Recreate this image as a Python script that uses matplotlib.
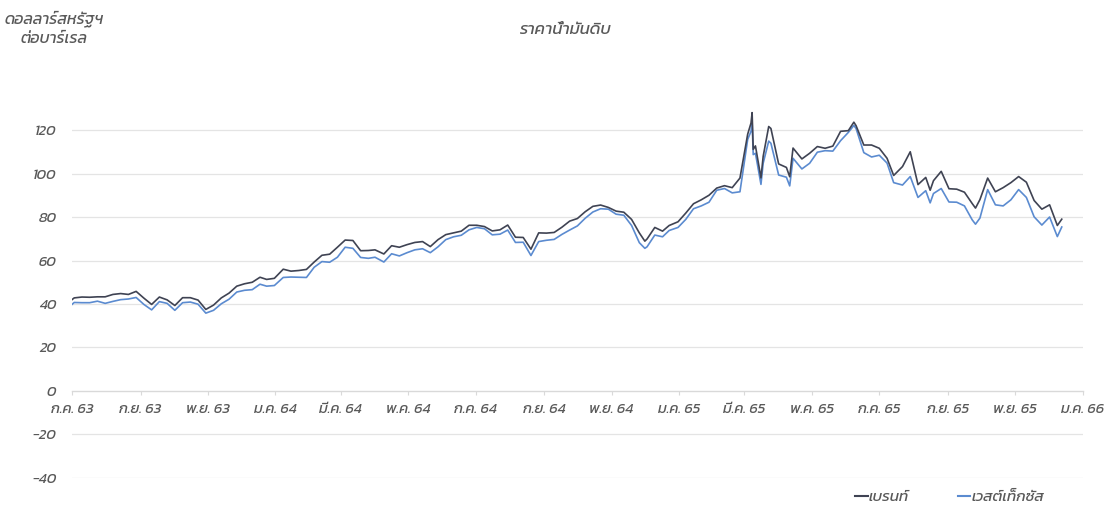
import matplotlib
matplotlib.use("Agg")
import matplotlib.pyplot as plt
from matplotlib import font_manager
from matplotlib.lines import Line2D
from fontTools.ttLib import TTFont
import pandas as pd

# weekly closes (plus a few spike days), USD / barrel
dates = [
    "2020-07-01", "2020-07-03", "2020-07-10", "2020-07-17", "2020-07-24", "2020-07-31",
    "2020-08-07", "2020-08-14", "2020-08-21", "2020-08-28",
    "2020-09-04", "2020-09-11", "2020-09-18", "2020-09-25",
    "2020-10-02", "2020-10-09", "2020-10-16", "2020-10-23", "2020-10-30",
    "2020-11-06", "2020-11-13", "2020-11-20", "2020-11-27",
    "2020-12-04", "2020-12-11", "2020-12-18", "2020-12-24", "2020-12-31",
    "2021-01-08", "2021-01-15", "2021-01-22", "2021-01-29",
    "2021-02-05", "2021-02-12", "2021-02-19", "2021-02-26",
    "2021-03-05", "2021-03-12", "2021-03-19", "2021-03-26",
    "2021-04-01", "2021-04-09", "2021-04-16", "2021-04-23", "2021-04-30",
    "2021-05-07", "2021-05-14", "2021-05-21", "2021-05-28",
    "2021-06-04", "2021-06-11", "2021-06-18", "2021-06-25",
    "2021-07-02", "2021-07-09", "2021-07-16", "2021-07-23", "2021-07-30",
    "2021-08-06", "2021-08-13", "2021-08-20", "2021-08-27",
    "2021-09-03", "2021-09-10", "2021-09-17", "2021-09-24",
    "2021-10-01", "2021-10-08", "2021-10-15", "2021-10-22", "2021-10-29",
    "2021-11-05", "2021-11-12", "2021-11-19", "2021-11-26",
    "2021-12-01", "2021-12-03", "2021-12-10", "2021-12-17", "2021-12-23", "2021-12-31",
    "2022-01-07", "2022-01-14", "2022-01-21", "2022-01-28",
    "2022-02-04", "2022-02-11", "2022-02-18", "2022-02-25",
    "2022-03-04", "2022-03-07", "2022-03-08", "2022-03-09", "2022-03-11", "2022-03-16",
    "2022-03-18", "2022-03-23", "2022-03-25",
    "2022-04-01", "2022-04-08", "2022-04-11", "2022-04-14", "2022-04-22", "2022-04-29",
    "2022-05-06", "2022-05-13", "2022-05-20", "2022-05-27",
    "2022-06-03", "2022-06-08", "2022-06-10", "2022-06-17", "2022-06-24",
    "2022-07-01", "2022-07-08", "2022-07-14", "2022-07-22", "2022-07-29",
    "2022-08-05", "2022-08-12", "2022-08-16", "2022-08-19", "2022-08-26",
    "2022-09-02", "2022-09-09", "2022-09-16", "2022-09-23", "2022-09-26", "2022-09-30",
    "2022-10-07", "2022-10-14", "2022-10-21", "2022-10-28",
    "2022-11-04", "2022-11-11", "2022-11-18", "2022-11-25",
    "2022-12-02", "2022-12-09", "2022-12-13",
]

brent = [
    42.0, 42.8, 43.2, 43.1, 43.3, 43.3,
    44.4, 44.8, 44.4, 45.8,
    42.7, 39.8, 43.2, 41.9,
    39.3, 42.9, 42.9, 41.8, 37.5,
    39.5, 42.8, 45.0, 48.2,
    49.3, 50.0, 52.3, 51.3, 51.8,
    56.0, 55.1, 55.4, 55.9,
    59.3, 62.4, 62.9, 66.1,
    69.4, 69.2, 64.5, 64.6,
    64.9, 63.0, 66.8, 66.1, 67.3,
    68.3, 68.7, 66.4, 69.6,
    71.9, 72.7, 73.5, 76.2,
    76.2, 75.6, 73.6, 74.1, 76.3,
    70.7, 70.6, 65.2, 72.7,
    72.6, 72.9, 75.3, 78.1,
    79.3, 82.4, 84.9, 85.5, 84.4,
    82.7, 82.2, 78.9, 72.7,
    68.9, 69.9, 75.2, 73.5, 76.1, 77.8,
    81.8, 86.1, 87.9, 90.0,
    93.3, 94.4, 93.5, 97.9,
    118.1, 123.2, 128.0, 111.1, 112.7, 98.0,
    107.9, 121.6, 120.7,
    104.4, 102.8, 98.5, 111.7, 106.7, 109.3,
    112.4, 111.6, 112.6, 119.4,
    119.7, 123.6, 122.0, 113.1, 113.1,
    111.6, 107.0, 99.1, 103.2, 110.0,
    94.9, 98.2, 92.3, 96.7, 101.0,
    93.0, 92.8, 91.4, 86.2, 84.1, 88.0,
    97.9, 91.6, 93.5, 95.8,
    98.6, 96.0, 87.6, 83.6,
    85.6, 76.1, 79.0,
]

wti = [
    39.8, 40.7, 40.6, 40.6, 41.3, 40.3,
    41.2, 42.0, 42.3, 43.0,
    39.8, 37.3, 41.1, 40.3,
    37.1, 40.6, 40.9, 39.9, 35.8,
    37.1, 40.1, 42.2, 45.5,
    46.3, 46.6, 49.1, 48.2, 48.5,
    52.2, 52.4, 52.3, 52.2,
    56.9, 59.5, 59.2, 61.5,
    66.1, 65.6, 61.4, 61.0,
    61.5, 59.3, 63.1, 62.1, 63.6,
    64.9, 65.4, 63.6, 66.3,
    69.6, 70.9, 71.6, 74.1,
    75.2, 74.6, 71.8, 72.1, 74.0,
    68.3, 68.4, 62.3, 68.7,
    69.3, 69.7, 72.0, 74.0,
    75.9, 79.4, 82.3, 83.8, 83.6,
    81.3, 80.8, 76.1, 68.2,
    65.6, 66.3, 71.7, 70.9, 73.8, 75.2,
    78.9, 83.8, 85.1, 86.8,
    92.3, 93.1, 91.1, 91.6,
    115.7, 119.4, 123.7, 108.7, 109.3, 95.0,
    104.7, 114.9, 113.9,
    99.3, 98.3, 94.3, 107.0, 102.1, 104.7,
    109.8, 110.5, 110.3, 115.1,
    118.9, 122.1, 120.7, 109.6, 107.6,
    108.4, 104.8, 95.8, 94.7, 98.6,
    89.0, 92.1, 86.5, 90.8, 93.1,
    86.9, 86.8, 85.1, 78.7, 76.7, 79.5,
    92.6, 85.6, 85.1, 87.9,
    92.6, 89.0, 80.1, 76.3,
    80.0, 71.0, 75.4,
]

xtick_labels = [
    "ก.ค. 63", "ก.ย. 63", "พ.ย. 63", "ม.ค. 64", "มี.ค. 64", "พ.ค. 64",
    "ก.ค. 64", "ก.ย. 64", "พ.ย. 64", "ม.ค. 65", "มี.ค. 65", "พ.ค. 65",
    "ก.ค. 65", "ก.ย. 65", "พ.ย. 65", "ม.ค. 66",
]
yticks = [-40, -20, 0, 20, 40, 60, 80, 100, 120]

series_names = ["เบรนท์", "เวสต์เท็กซัส"]
title = "ราคาน้ำมันดิบ"
unit_lines = ["ดอลลาร์สหรัฐฯ", "ต่อบาร์เรล"]


def find_thai_family():
    # look through installed fonts for one that has Thai glyphs
    preferred = ["Kanit", "Prompt", "Noto Sans Thai", "Noto Sans Thai Looped",
                 "Sarabun", "Loma", "Garuda", "Waree", "Umpush", "Kinnari", "Norasi"]
    found = []
    for fe in font_manager.fontManager.ttflist:
        try:
            font = TTFont(fe.fname, fontNumber=0, lazy=True)
            cmap = font.getBestCmap()
            font.close()
        except Exception:
            continue
        if cmap and 0x0E01 in cmap and 0x0E32 in cmap and 0x0E49 in cmap:
            found.append(fe.name)
    for name in preferred:
        if name in found:
            return name
    return found[0] if found else None


thai = find_thai_family()
families = ([thai] if thai else []) + ["DejaVu Sans"]
plt.rcParams["font.family"] = families

text_color = "#595959"
brent_color = "#3f4353"
wti_color = "#5b8bd0"

x = pd.to_datetime(dates)
ticks = pd.date_range("2020-07-01", "2023-01-01", freq="2MS")

fig = plt.figure(figsize=(11.06, 5.11), dpi=100)
ax = fig.add_axes([0.0651, 0.0646, 0.9139, 0.7661])

ax.plot(x, brent, color=brent_color, lw=1.2, zorder=3)
ax.plot(x, wti, color=wti_color, lw=1.2, zorder=2)

ax.set_xlim(pd.Timestamp("2020-07-01"), pd.Timestamp("2023-01-01"))
ax.set_ylim(-40, 140)
ax.set_yticks(yticks)
ax.set_xticks(ticks)
ax.set_xticklabels(xtick_labels)

for v in yticks:
    if v != 0:
        ax.axhline(v, color="#e4e4e4", lw=0.9, zorder=0)

for s in ["left", "right", "top"]:
    ax.spines[s].set_visible(False)
ax.spines["bottom"].set_position(("data", 0))
ax.spines["bottom"].set_color("#d9d9d9")
ax.spines["bottom"].set_linewidth(1.0)

ax.tick_params(axis="y", length=0, pad=11, labelsize=10.5, labelcolor=text_color)
ax.tick_params(axis="x", length=3, width=0.8, color="#d9d9d9", pad=6,
               labelsize=10.5, labelcolor=text_color)
for lab in ax.get_xticklabels() + ax.get_yticklabels():
    lab.set_fontstyle("italic")

fig.text(565 / 1106, 1 - 30 / 511, title, ha="center", va="center",
         fontsize=12, color=text_color, style="italic")
fig.text(54 / 1106, 1 - 19 / 511, unit_lines[0], ha="center", va="center",
         fontsize=11.5, color=text_color, style="italic")
fig.text(54 / 1106, 1 - 39 / 511, unit_lines[1], ha="center", va="center",
         fontsize=11.5, color=text_color, style="italic")

handles = [Line2D([], [], color=brent_color, lw=1.5),
           Line2D([], [], color=wti_color, lw=1.5)]
leg = fig.legend(handles, series_names, loc="center",
                 bbox_to_anchor=(950 / 1106, 1 - 497 / 511), ncol=2, frameon=False,
                 handlelength=0.8, handletextpad=0.1, columnspacing=3.2,
                 prop={"size": 11, "style": "italic"})
for t in leg.get_texts():
    t.set_color(text_color)

fig.savefig("out.png", dpi=100)
